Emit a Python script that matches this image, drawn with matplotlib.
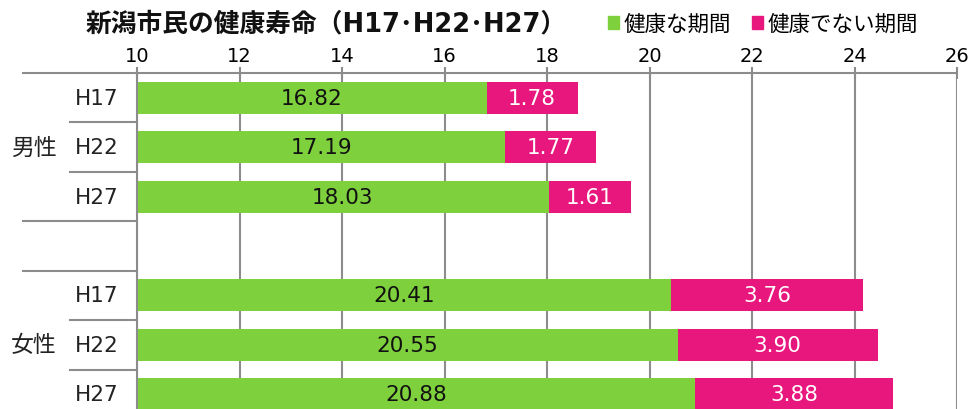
import numpy as np
import matplotlib.pyplot as plt
from matplotlib.patches import Patch

plt.rcParams['font.family'] = ['DejaVu Sans', 'Noto Sans CJK JP']

title = '新潟市民の健康寿命（H17･H22･H27）'
groups = ['男性', '女性']
years = ['H17', 'H22', 'H27']
healthy = [16.82, 17.19, 18.03, 20.41, 20.55, 20.88]
unhealthy = [1.78, 1.77, 1.61, 3.76, 3.90, 3.88]
series_names = ['健康な期間', '健康でない期間']

green = '#7ed13d'
pink = '#e8177e'
gray = '#8c8c8c'

rows = np.array([0, 1, 2, 4, 5, 6])
healthy = np.array(healthy)
unhealthy = np.array(unhealthy)

fig = plt.figure(figsize=(9.75, 4.10), dpi=100)
ax = fig.add_axes([137/975, 1 - 420/410, 820/975, 346/410])

ax.barh(rows, healthy, height=0.65, color=green, zorder=2)
ax.barh(rows, unhealthy, left=healthy, height=0.65, color=pink, zorder=2)

xmin, xmax = 10, 26
ax.set_xlim(xmin, xmax)
ax.set_ylim(6.5, -0.5)

for y, h, u in zip(rows, healthy, unhealthy):
    ax.text((xmin + h) / 2, y, f'{h:.2f}', ha='center', va='center',
            fontsize=15.5, color='#111111', zorder=3)
    ax.text(h + u / 2, y, f'{u:.2f}', ha='center', va='center',
            fontsize=15.5, color='white', zorder=3)

ax.xaxis.tick_top()
ax.set_xticks(np.arange(10, 27, 2))
ax.tick_params(axis='x', direction='inout', length=9, width=1.5, color=gray,
               labelsize=14, pad=1)
ax.set_yticks([])
ax.grid(axis='x', color=gray, linewidth=1.5, zorder=0)
for s in ['bottom', 'right']:
    ax.spines[s].set_visible(False)
for s in ['top', 'left']:
    ax.spines[s].set_color(gray)
    ax.spines[s].set_linewidth(1.5)

# row labels and separators on the left
tr = ax.get_yaxis_transform()
for y, lab in zip(rows, years * 2):
    ax.text(-0.022, y, lab, transform=tr, ha='right', va='center', fontsize=15.5,
            color='#222222')
for b in [-0.5, 2.5, 3.5]:
    ax.plot([-0.139, 0], [b, b], transform=tr, color=gray, lw=1.5, clip_on=False)
for b in [0.5, 1.5, 4.5, 5.5]:
    ax.plot([-0.082, 0], [b, b], transform=tr, color=gray, lw=1.5, clip_on=False)
ax.text(-0.1256, 1, groups[0], transform=tr, ha='center', va='center',
        fontsize=16.5, color='#222222')
ax.text(-0.1256, 5, groups[1], transform=tr, ha='center', va='center',
        fontsize=16.5, color='#222222')

fig.text(86/975, 1 - 24/410, title, ha='left', va='center', fontsize=18.5,
         fontweight='bold', color='#111111')

handles = [Patch(color=green), Patch(color=pink)]
fig.legend(handles, series_names, loc='center left',
           bbox_to_anchor=(608/975, 1 - 25/410), ncol=2, frameon=False,
           fontsize=15.5, handlelength=0.5, handleheight=0.5, handletextpad=0.2,
           columnspacing=1.0, borderaxespad=0, borderpad=0)

fig.savefig('out.png', dpi=100)
